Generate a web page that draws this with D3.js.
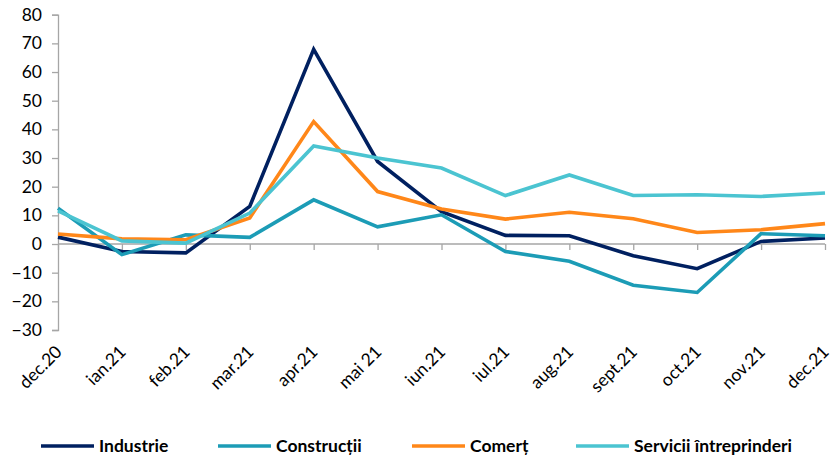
<!DOCTYPE html>
<html><head><meta charset="utf-8">
<script src="https://cdn.jsdelivr.net/npm/d3@7"></script>
<style>body{margin:0;background:#fff}svg{display:block}text{font-family:"Lato","Liberation Sans",sans-serif}</style>
</head><body><svg id="c" width="830" height="458"></svg>
<script>
const categories = ["dec.20","ian.21","feb.21","mar.21","apr.21","mai 21","iun.21","iul.21","aug.21","sept.21","oct.21","nov.21","dec.21"];
const industrie = [2.4,-2.6,-3.1,13.1,67.9,28.8,11.3,3.0,2.9,-4.1,-8.6,0.9,2.1];
const constructii = [12.5,-3.7,3.2,2.3,15.4,6.0,10.2,-2.6,-6.0,-14.4,-16.9,3.6,2.9];
const comert = [3.5,1.8,1.5,9.1,42.7,18.3,12.2,8.7,11.1,8.8,4.0,5.0,7.1];
const servicii = [11.6,1.1,0.3,10.8,34.2,30.0,26.5,16.9,24.1,16.9,17.2,16.6,17.8];
const yTicks = [80,70,60,50,40,30,20,10,0,-10,-20,-30];
const seriesNames = ["Industrie","Construcții","Comerț","Servicii întreprinderi"];
const seriesColors = ["#002060","#1C9CB6","#FF8719","#4BC4D1"];
const seriesData = [industrie, constructii, comert, servicii];

const svg = d3.select("#c");
const x = d3.scalePoint().domain(categories).range([58,825]);
const y = d3.scaleLinear().domain([-30,80]).range([330,14.7]);
const axisColor = "#A6A6A6";

// y axis
const ya = svg.append("g").attr("transform","translate(58,0)")
  .call(d3.axisLeft(y).tickValues(yTicks).tickSize(6).tickPadding(10).tickFormat(d3.format("d")));
ya.select(".domain").attr("stroke",axisColor).attr("stroke-width",1.3);
ya.selectAll(".tick line").attr("stroke",axisColor).attr("stroke-width",1.3);
ya.selectAll(".tick text").attr("fill","#000").style("font-size","17.5px");

// x axis at zero
const xa = svg.append("g").attr("transform",`translate(0,${y(0)})`)
  .call(d3.axisBottom(x).tickSize(6).tickFormat(""));
xa.select(".domain").attr("stroke",axisColor).attr("stroke-width",1.3).attr("d",`M58,0H825`);
xa.selectAll(".tick line").attr("stroke",axisColor).attr("stroke-width",1.3);

// x labels rotated at bottom
svg.append("g").selectAll("text").data(categories).join("text")
  .attr("transform",d=>`translate(${x(d)+5},${353}) rotate(-45)`)
  .attr("text-anchor","end").style("font-size","17.5px").attr("fill","#000")
  .text(d=>d);

// lines
const line = d3.line().x((d,i)=>x(categories[i])).y(d=>y(d));
seriesData.forEach((s,k)=>{
  svg.append("path").datum(s).attr("d",line).attr("fill","none")
    .attr("stroke",seriesColors[k]).attr("stroke-width",3.6).attr("stroke-linejoin","miter");
});

// legend
const legX = [41,218,412,576];
const lg = svg.append("g");
seriesNames.forEach((n,k)=>{
  lg.append("line").attr("x1",legX[k]).attr("x2",legX[k]+53).attr("y1",446).attr("y2",446)
    .attr("stroke",seriesColors[k]).attr("stroke-width",3.6);
  lg.append("text").attr("x",legX[k]+58).attr("y",452).style("font-size","17.5px")
    .style("font-weight","bold").attr("fill","#000").text(n);
});
</script></body></html>
